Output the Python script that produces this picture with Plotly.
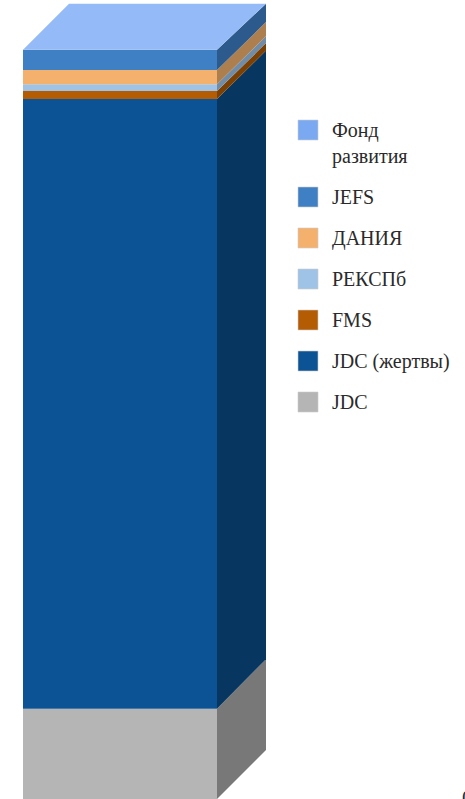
import plotly.graph_objects as go
import numpy as np

# Stack order bottom to top
names = ["JDC", "JDC (жертвы)", "FMS", "РЕКСПб", "ДАНИЯ", "JEFS", "Фонд<br>развития"]
values = [12.05, 81.33, 1.07, 0.93, 1.87, 2.73, 0.0]
front_colors = ["#B5B5B5", "#0C5396", "#B35C04", "#9FC3E7", "#F4B16E", "#3F80C4", "#7AA9F2"]
side_colors = ["#787878", "#073760", "#7C4003", "#6F8CA8", "#AD7F4F", "#2C5A8C", "#2C5A8C"]
top_color = "#94BBF7"
legend_colors = front_colors

W, H = 465, 799
px_per_unit = 7.495
bar_left, bar_right = 23, 217
dx = 49
# upward shift of each stack boundary at the back edge, in pixels
depth_px = [49, 49.5, 48.5, 48, 48, 48, 46, 46]
top_dx_left = 46
y_max = H / px_per_unit

fig = go.Figure()
edges = np.concatenate([[0], np.cumsum(values)])
shift = [d / px_per_unit for d in depth_px]

for i, name in enumerate(names):
    v0, v1 = edges[i], edges[i + 1]
    if values[i] <= 0:
        continue
    fig.add_trace(go.Scatter(
        x=[bar_right, bar_right + dx, bar_right + dx, bar_right, bar_right],
        y=[v0, v0 + shift[i], v1 + shift[i + 1], v1, v0], fill="toself", fillcolor=side_colors[i],
        mode="lines", line=dict(width=0), showlegend=False, hoverinfo="skip"))
    fig.add_trace(go.Scatter(
        x=[bar_left, bar_right, bar_right, bar_left, bar_left],
        y=[v0, v0, v1, v1, v0], fill="toself", fillcolor=front_colors[i],
        mode="lines", line=dict(width=0), showlegend=False, hoverinfo="skip"))

top = edges[-1]
fig.add_trace(go.Scatter(
    x=[bar_left, bar_right, bar_right + dx, bar_left + top_dx_left, bar_left],
    y=[top, top, top + shift[-1], top + shift[-1], top], fill="toself", fillcolor=top_color,
    mode="lines", line=dict(width=0), showlegend=False, hoverinfo="skip"))

# Legend: top to bottom
legend_center_px = [130, 197, 238, 279, 320, 361, 402]
leg_names = names[::-1]
leg_cols = legend_colors[::-1]
for lab, col, yp in zip(leg_names, leg_cols, legend_center_px):
    fig.add_shape(type="rect", xref="paper", yref="paper",
                  x0=298 / W, x1=318 / W, y0=1 - (yp + 10) / H, y1=1 - (yp - 10) / H,
                  fillcolor=col, line=dict(color="rgba(205,205,205,0.6)", width=1))
    fig.add_annotation(xref="paper", yref="paper", x=330.5 / W, y=1 - (yp - 12) / H,
                       xanchor="left", yanchor="top", align="left", showarrow=False,
                       text=lab, font=dict(family="Liberation Serif", size=20, color="#2A2A2A"),
                       borderpad=0)

fig.add_annotation(xref="paper", yref="paper", x=461 / W, y=1 - 786 / H,
                   xanchor="left", yanchor="top", showarrow=False,
                   text="0", font=dict(family="Liberation Serif", size=20, color="#2A2A2A"), borderpad=0)

fig.update_layout(width=W, height=H, margin=dict(l=0, r=0, t=0, b=0),
                  paper_bgcolor="white", plot_bgcolor="white", showlegend=False,
                  xaxis=dict(range=[0, W], visible=False, fixedrange=True),
                  yaxis=dict(range=[0, y_max], visible=False, fixedrange=True))
fig.write_html("out.html", config={"displayModeBar": False},
               post_script="document.body.style.margin='0';document.body.style.overflow='hidden';")
